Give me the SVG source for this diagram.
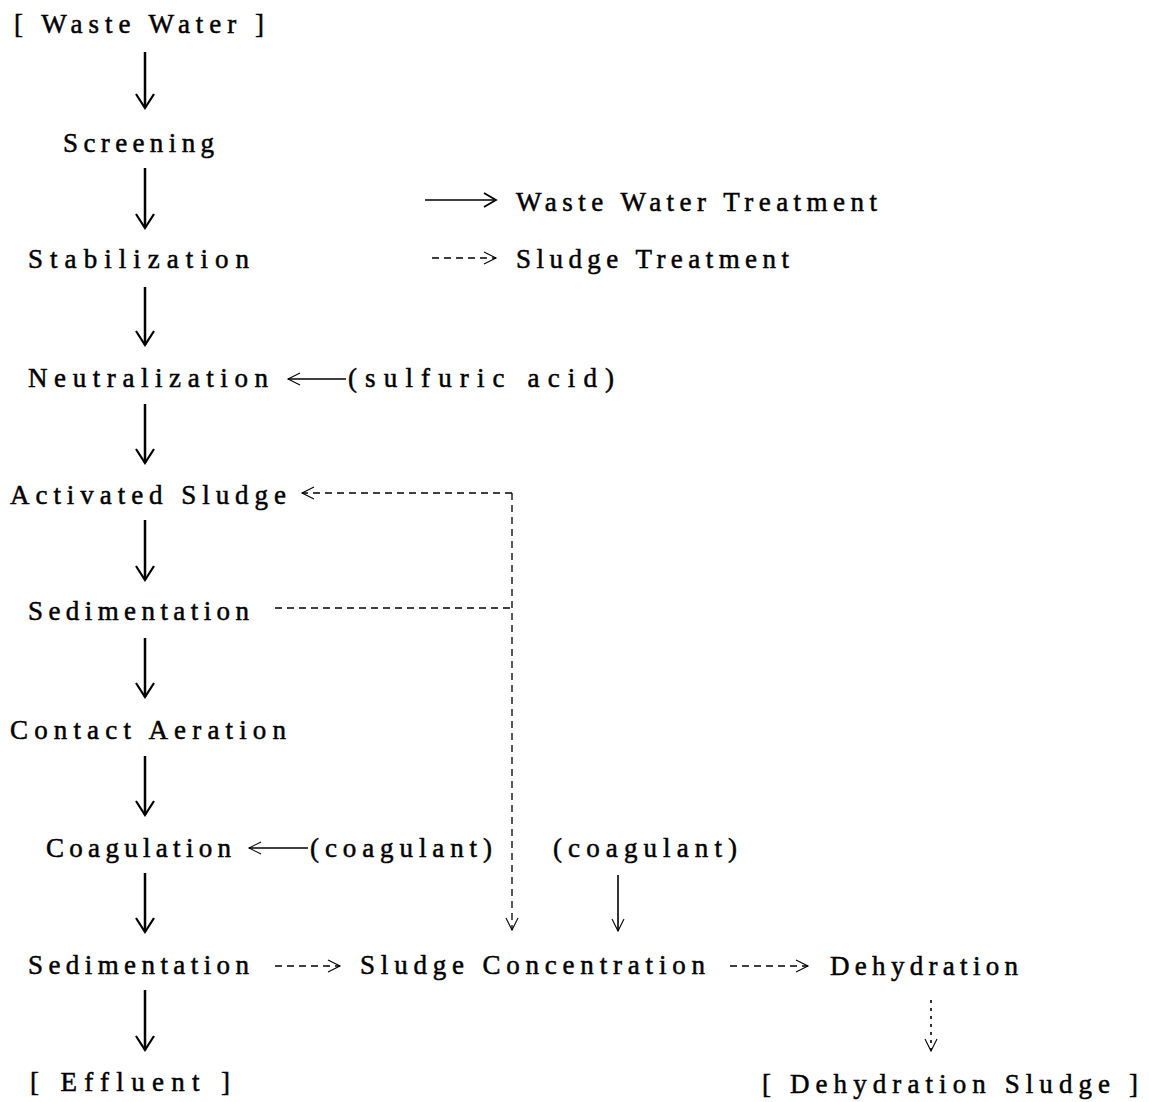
<svg xmlns="http://www.w3.org/2000/svg" width="1149" height="1102" viewBox="0 0 1149 1102">
  <style>
    .lbl { font-family: "Liberation Serif", "DejaVu Serif", serif; font-size: 27px; fill: #000; stroke: #000; stroke-width: 0.5; }
    .main { stroke: #000; stroke-width: 2.5; fill: none; }
    .feed { stroke: #000; stroke-width: 1.6; fill: none; }
    .sludge { stroke: #000; stroke-width: 1.3; fill: none; stroke-dasharray: 7 5; }
    .sludge-fine { stroke: #000; stroke-width: 1.6; fill: none; stroke-dasharray: 3 5; }
  </style>
  <defs>
    <marker id="headBold" markerUnits="userSpaceOnUse" viewBox="-16 -11 18 22" refX="0" refY="0" markerWidth="18" markerHeight="22" orient="auto">
      <path d="M-14,-9 L0,0 L-14,9" fill="none" stroke="#000" stroke-width="2.2"/>
    </marker>
    <marker id="headThin" markerUnits="userSpaceOnUse" viewBox="-14 -8 16 16" refX="0" refY="0" markerWidth="16" markerHeight="16" orient="auto">
      <path d="M-12,-6 L0,0 L-12,6" fill="none" stroke="#000" stroke-width="1.1"/>
    </marker>
    <marker id="headMid" markerUnits="userSpaceOnUse" viewBox="-14 -8 16 16" refX="0" refY="0" markerWidth="16" markerHeight="16" orient="auto">
      <path d="M-12,-7 L0,0 L-12,7" fill="none" stroke="#000" stroke-width="1.8"/>
    </marker>
  </defs>

  <!-- process steps -->
  <g id="waste-water"><text class="lbl" x="14" y="33" textLength="250" lengthAdjust="spacing">[ Waste Water ]</text></g>
  <g id="screening"><text class="lbl" x="63" y="152" textLength="151" lengthAdjust="spacing">Screening</text></g>
  <g id="stabilization"><text class="lbl" x="28" y="268" textLength="221" lengthAdjust="spacing">Stabilization</text></g>
  <g id="neutralization"><text class="lbl" x="28" y="387" textLength="240" lengthAdjust="spacing">Neutralization</text></g>
  <g id="sulfuric-acid"><text class="lbl" x="348" y="387" textLength="266" lengthAdjust="spacing">(sulfuric acid)</text></g>
  <g id="activated-sludge"><text class="lbl" x="10" y="504" textLength="276" lengthAdjust="spacing">Activated Sludge</text></g>
  <g id="sedimentation-1"><text class="lbl" x="28" y="620" textLength="221" lengthAdjust="spacing">Sedimentation</text></g>
  <g id="contact-aeration"><text class="lbl" x="10" y="739" textLength="276" lengthAdjust="spacing">Contact Aeration</text></g>
  <g id="coagulation"><text class="lbl" x="46" y="857" textLength="185" lengthAdjust="spacing">Coagulation</text></g>
  <g id="coagulant-1"><text class="lbl" x="310" y="857" textLength="182" lengthAdjust="spacing">(coagulant)</text></g>
  <g id="coagulant-2"><text class="lbl" x="553" y="857" textLength="184" lengthAdjust="spacing">(coagulant)</text></g>
  <g id="sedimentation-2"><text class="lbl" x="28" y="974" textLength="221" lengthAdjust="spacing">Sedimentation</text></g>
  <g id="sludge-concentration"><text class="lbl" x="360" y="974" textLength="345" lengthAdjust="spacing">Sludge Concentration</text></g>
  <g id="dehydration"><text class="lbl" x="830" y="975" textLength="188" lengthAdjust="spacing">Dehydration</text></g>
  <g id="effluent"><text class="lbl" x="30" y="1091" textLength="200" lengthAdjust="spacing">[ Effluent ]</text></g>
  <g id="dehydration-sludge"><text class="lbl" x="762" y="1093" textLength="376" lengthAdjust="spacing">[ Dehydration Sludge ]</text></g>

  <!-- legend -->
  <g id="legend">
    <line class="feed" x1="425" y1="200" x2="496" y2="200" marker-end="url(#headMid)"/>
    <text class="lbl" x="516" y="211" textLength="361" lengthAdjust="spacing">Waste Water Treatment</text>
    <line class="sludge" x1="432" y1="258" x2="496" y2="258" marker-end="url(#headThin)"/>
    <text class="lbl" x="516" y="268" textLength="273" lengthAdjust="spacing">Sludge Treatment</text>
  </g>

  <!-- connectors -->
  <g id="connectors">
    <!-- waste water line -->
    <line class="main" x1="145" y1="52" x2="145" y2="108" marker-end="url(#headBold)"/>
    <line class="main" x1="145" y1="168" x2="145" y2="228" marker-end="url(#headBold)"/>
    <line class="main" x1="145" y1="287" x2="145" y2="345" marker-end="url(#headBold)"/>
    <line class="main" x1="145" y1="404" x2="145" y2="463" marker-end="url(#headBold)"/>
    <line class="main" x1="145" y1="520" x2="145" y2="580" marker-end="url(#headBold)"/>
    <line class="main" x1="145" y1="638" x2="145" y2="697" marker-end="url(#headBold)"/>
    <line class="main" x1="145" y1="756" x2="145" y2="815" marker-end="url(#headBold)"/>
    <line class="main" x1="145" y1="873" x2="145" y2="932" marker-end="url(#headBold)"/>
    <line class="main" x1="145" y1="990" x2="145" y2="1050" marker-end="url(#headBold)"/>

    <!-- chemical feeds -->
    <line class="feed" x1="346" y1="379" x2="288" y2="379" marker-end="url(#headThin)"/>
    <line class="feed" x1="308" y1="848" x2="249" y2="848" marker-end="url(#headThin)"/>
    <line class="feed" x1="618" y1="875" x2="618" y2="931" marker-end="url(#headThin)"/>

    <!-- sludge lines -->
    <line class="sludge" x1="512" y1="493" x2="302" y2="493" marker-end="url(#headThin)"/>
    <line class="sludge" x1="512" y1="493" x2="512" y2="930" marker-end="url(#headThin)"/>
    <line class="sludge" x1="275" y1="608" x2="512" y2="608"/>
    <line class="sludge" x1="275" y1="966" x2="340" y2="966" marker-end="url(#headThin)"/>
    <line class="sludge" x1="730" y1="966" x2="808" y2="966" marker-end="url(#headThin)"/>
    <line class="sludge-fine" x1="931" y1="1000" x2="931" y2="1051" marker-end="url(#headThin)"/>
  </g>
</svg>
